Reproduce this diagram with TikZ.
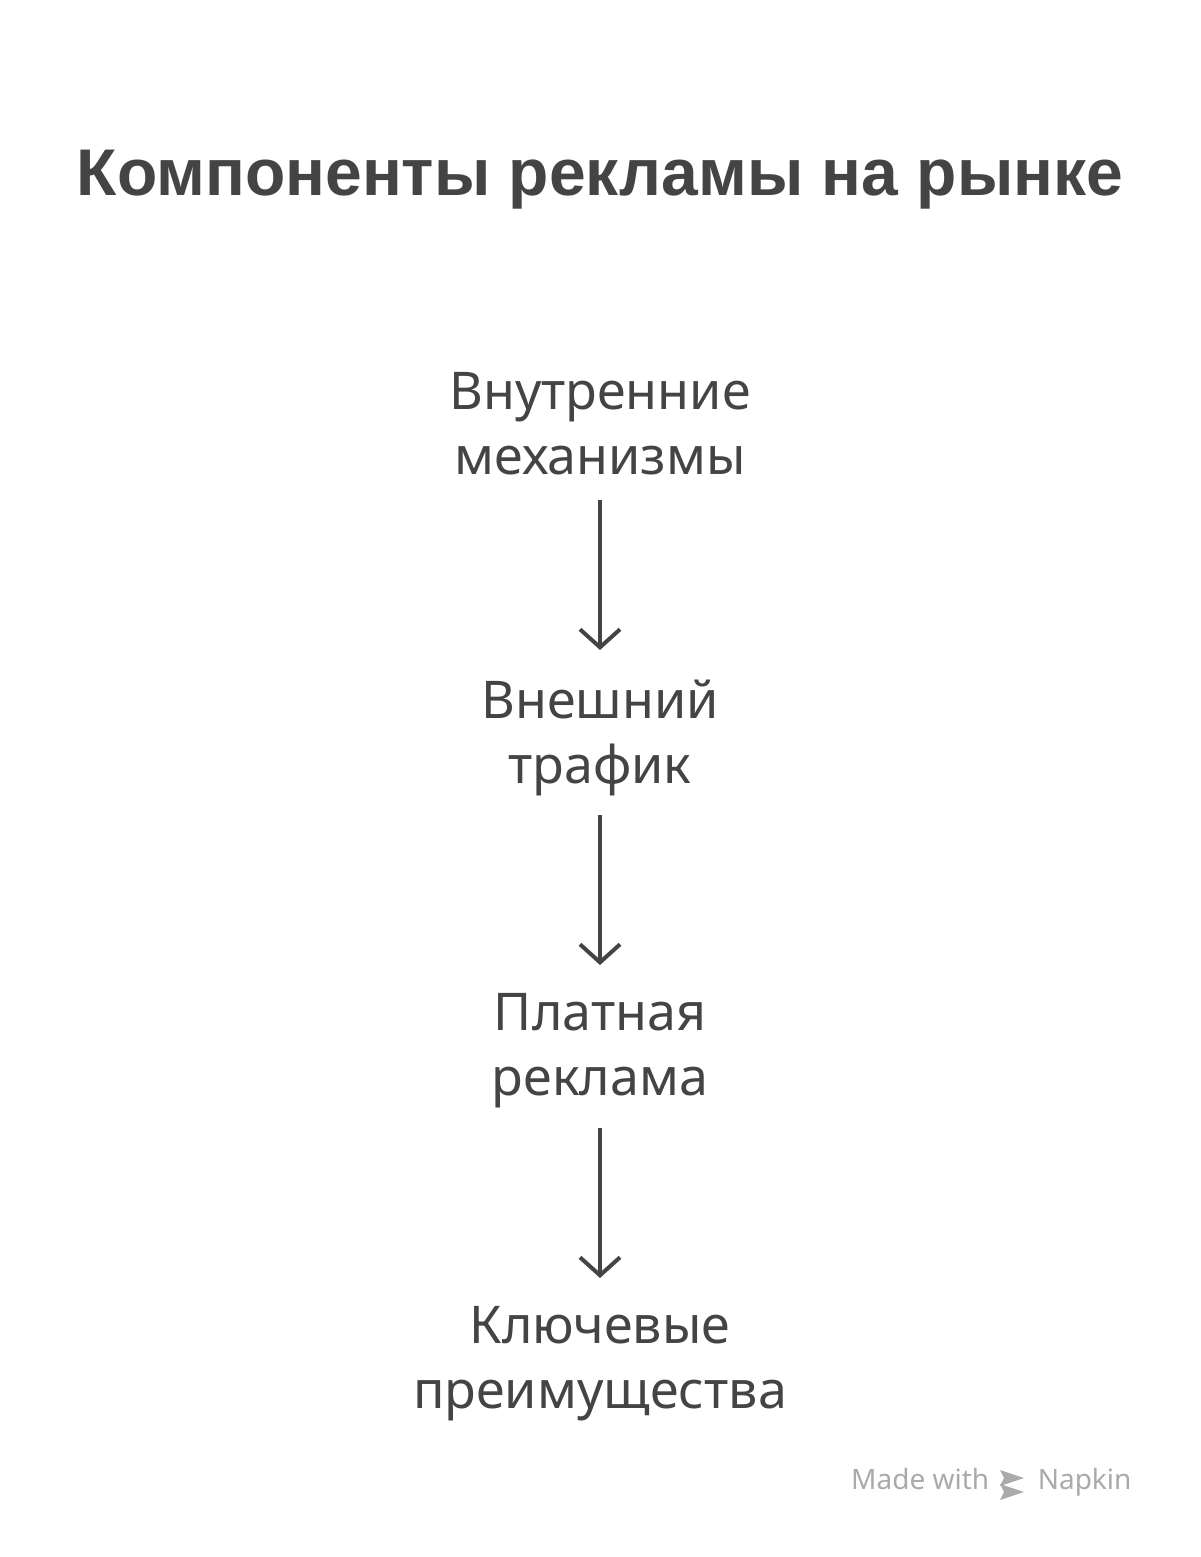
\documentclass[tikz,border=0pt]{standalone}
\usepackage{fontspec}
\setmainfont{Noto Sans}
\newfontfamily\titlefont{Liberation Sans}
\usetikzlibrary{arrows.meta}
\definecolor{ink}{HTML}{444444}
\definecolor{wm}{HTML}{AAAAAA}
\begin{document}
\begin{tikzpicture}[x=1pt,y=-1pt,
  lbl/.style={text=ink,align=center,font=\fontsize{52}{65}\selectfont},
  conn/.style={draw=ink,line width=4pt,-{Straight Barb[length=18pt,width=40pt,line width=4pt]}}]
\useasboundingbox (0,0) rectangle (1200,1557);
\node[text=ink,font=\titlefont\fontsize{66}{70}\selectfont\bfseries] (title) at (600,180) {Компоненты рекламы на рынке};
\node[lbl] (a) at (600,424) {Внутренние\\механизмы};
\node[lbl] (b) at (600,738) {Внешний\\трафик};
\node[lbl] (c) at (600,1051) {Платная\\реклама};
\node[lbl] (d) at (600,1364) {Ключевые\\преимущества};
\coordinate (a1) at (600,500); \coordinate (a2) at (600,650);
\coordinate (b1) at (600,815); \coordinate (b2) at (600,965);
\coordinate (c1) at (600,1128); \coordinate (c2) at (600,1278);
\draw[conn] (a1) -- (a2);
\draw[conn] (b1) -- (b2);
\draw[conn] (c1) -- (c2);
\node[text=wm,font=\fontsize{28}{30}\selectfont,anchor=east] (wm) at (1135,1482) {Made with \hspace{34pt} Napkin};
\fill[wm] (1000,1470) -- (1024,1478) -- (1000,1486) -- (1004,1478) -- cycle;
\fill[wm] (1000,1484) -- (1024,1492) -- (1000,1500) -- (1004,1492) -- cycle;
\end{tikzpicture}
\end{document}
